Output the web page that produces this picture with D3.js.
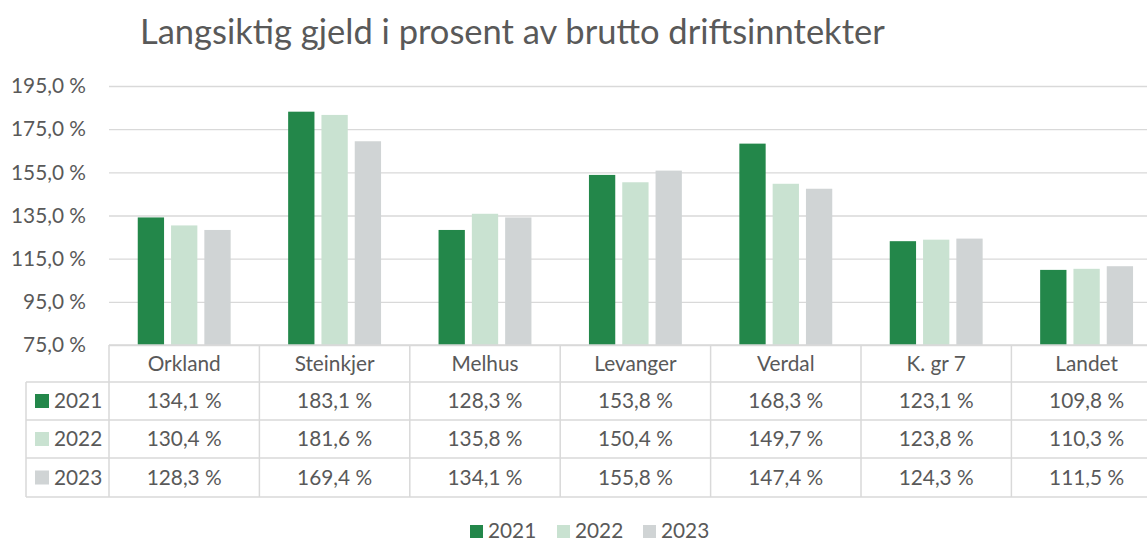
<!DOCTYPE html>
<html>
<head>
<meta charset="utf-8">
<script src="https://cdn.jsdelivr.net/npm/d3@7"></script>
<style>
  html, body { margin: 0; padding: 0; background: #fff; overflow: hidden; }
  svg { display: block; }
  text { font-family: "Lato", "Open Sans", sans-serif; fill: #595959; }
</style>
</head>
<body>
<svg id="chart" width="1147" height="541"></svg>
<script>
const title = "Langsiktig gjeld i prosent av brutto driftsinntekter";
const categories = ["Orkland", "Steinkjer", "Melhus", "Levanger", "Verdal", "K. gr 7", "Landet"];
const seriesNames = ["2021", "2022", "2023"];
const values2021 = [134.1, 183.1, 128.3, 153.8, 168.3, 123.1, 109.8];
const values2022 = [130.4, 181.6, 135.8, 150.4, 149.7, 123.8, 110.3];
const values2023 = [128.3, 169.4, 134.1, 155.8, 147.4, 124.3, 111.5];
const yTicks = [75, 95, 115, 135, 155, 175, 195];
const colors = ["#23874A", "#C9E2D1", "#D0D4D5"];

const seriesValues = [values2021, values2022, values2023];

const svg = d3.select("#chart");
const W = 1147;

const locale = d3.formatLocale({ decimal: ",", thousands: " ", grouping: [3], currency: ["", ""] });
const fmt = v => locale.format(".1f")(v) + " %";

// font fitting helper
function fitSize(str, targetWidth, base) {
  const t = svg.append("text").attr("font-size", base).text(str);
  const w = t.node().getComputedTextLength();
  t.remove();
  return base * targetWidth / w;
}
const labelSize = fitSize("134,1 %", 75, 20);
const titleSize = fitSize(title, 745, 30);

// layout
const plotLeft = 109, plotTop = 86, plotBottom = 345;
const colW = 150.4;
const rowH = [37, 38, 38, 39];

const x = d3.scaleBand().domain(categories).range([plotLeft, plotLeft + colW * categories.length]).paddingInner(0).paddingOuter(0);
const xInner = d3.scaleBand().domain(seriesNames).range([28.75, colW - 28.75]).paddingInner(0.21).paddingOuter(0);
const y = d3.scaleLinear().domain([75, 195]).range([plotBottom, plotTop]);

// title
svg.append("text")
  .attr("x", 140).attr("y", 44)
  .attr("font-size", titleSize)
  .text(title);

// gridlines + y labels via axis
const yAxis = d3.axisLeft(y).tickValues(yTicks).tickFormat(fmt).tickSize(-(W - plotLeft)).tickPadding(23);
const gy = svg.append("g").attr("transform", `translate(${plotLeft},0)`).call(yAxis);
gy.select(".domain").remove();
gy.selectAll(".tick line").attr("stroke", "#D9D9D9").attr("stroke-width", 1.3);
gy.selectAll(".tick text").attr("font-size", labelSize).attr("fill", "#595959")
  .style("font-family", "Lato, 'Open Sans', sans-serif");

// bars
const groups = svg.append("g").selectAll("g").data(categories).join("g")
  .attr("transform", d => `translate(${x(d)},0)`);
groups.selectAll("rect")
  .data((c, i) => seriesNames.map((s, j) => ({ s, j, v: seriesValues[j][i] })))
  .join("rect")
  .attr("x", d => xInner(d.s))
  .attr("width", xInner.bandwidth())
  .attr("y", d => y(d.v))
  .attr("height", d => y(75) - y(d.v))
  .attr("fill", d => colors[d.j]);

// data table
const tbl = svg.append("g");
const rowY = [plotBottom];
rowH.forEach(h => rowY.push(rowY[rowY.length - 1] + h));
const tableLeft = 26;
const lineColor = "#D9D9D9";
// horizontal lines
tbl.append("line").attr("x1", plotLeft).attr("x2", W).attr("y1", rowY[0]).attr("y2", rowY[0])
  .attr("stroke", lineColor).attr("stroke-width", 1.5);
for (let r = 1; r < rowY.length; r++) {
  tbl.append("line").attr("x1", tableLeft).attr("x2", W).attr("y1", rowY[r]).attr("y2", rowY[r])
    .attr("stroke", lineColor).attr("stroke-width", 1.5);
}
// vertical lines
tbl.append("line").attr("x1", tableLeft).attr("x2", tableLeft).attr("y1", rowY[1]).attr("y2", rowY[4])
  .attr("stroke", lineColor).attr("stroke-width", 1.5);
categories.concat(["__end"]).forEach((c, i) => {
  const xx = plotLeft + colW * i;
  tbl.append("line").attr("x1", xx).attr("x2", xx).attr("y1", rowY[0]).attr("y2", rowY[4])
    .attr("stroke", lineColor).attr("stroke-width", 1.5);
});
// header labels
tbl.selectAll("text.cat").data(categories).join("text").attr("class", "cat")
  .attr("x", d => x(d) + colW / 2)
  .attr("y", (rowY[0] + rowY[1]) / 2)
  .attr("dy", "0.35em")
  .attr("text-anchor", "middle")
  .attr("font-size", labelSize)
  .text(d => d);
// rows
seriesNames.forEach((s, j) => {
  const cy = (rowY[j + 1] + rowY[j + 2]) / 2;
  tbl.append("rect").attr("x", 35).attr("y", cy - 7).attr("width", 14).attr("height", 14).attr("fill", colors[j]);
  tbl.append("text").attr("x", 54).attr("y", cy).attr("dy", "0.35em").attr("font-size", labelSize).text(s);
  tbl.selectAll(null).data(categories).join("text")
    .attr("x", d => x(d) + colW / 2)
    .attr("y", cy)
    .attr("dy", "0.35em")
    .attr("text-anchor", "middle")
    .attr("font-size", labelSize)
    .text((d, i) => fmt(seriesValues[j][i]));
});

// bottom legend
const legendX = [470, 557, 643];
const leg = svg.append("g");
seriesNames.forEach((s, j) => {
  leg.append("rect").attr("x", legendX[j]).attr("y", 525).attr("width", 13).attr("height", 13).attr("fill", colors[j]);
  leg.append("text").attr("x", legendX[j] + 18).attr("y", 531).attr("dy", "0.35em").attr("font-size", labelSize).text(s);
});
</script>
</body>
</html>
